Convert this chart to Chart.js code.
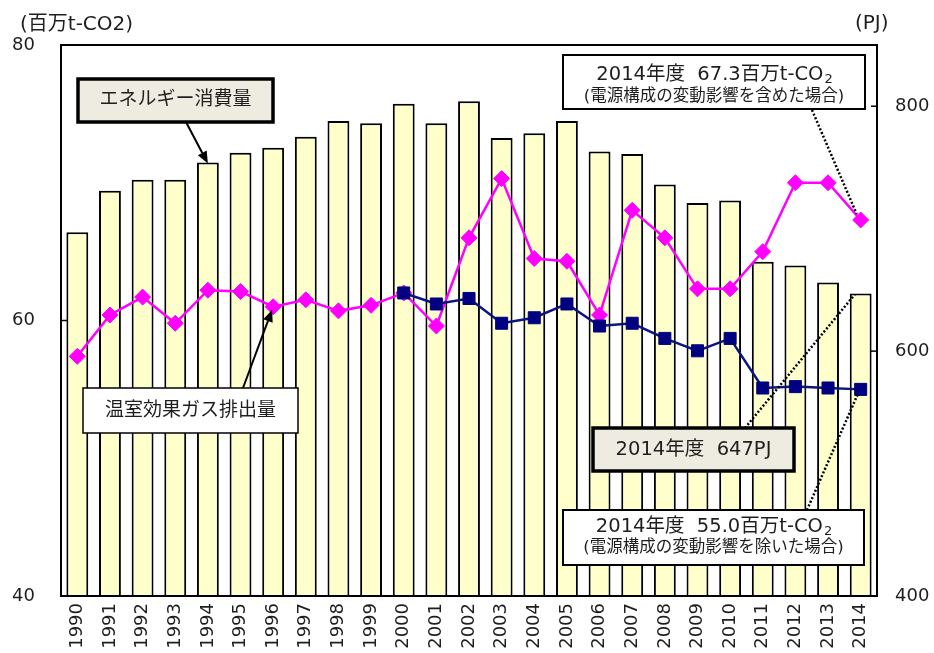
<!DOCTYPE html>
<html>
<head>
<meta charset="utf-8">
<script src="https://cdn.jsdelivr.net/npm/chart.js@4.4.1/dist/chart.umd.min.js"></script>
<style>
  html, body { margin: 0; padding: 0; background: #ffffff; }
  #wrap { width: 934px; height: 653px; }
</style>
</head>
<body>
<div id="wrap"><canvas id="chart" width="934" height="653"></canvas></div>
<script>
// Fiscal years
const years = ['1990','1991','1992','1993','1994','1995','1996','1997','1998','1999',
               '2000','2001','2002','2003','2004','2005','2006','2007','2008','2009',
               '2010','2011','2012','2013','2014'];

// Energy consumption (PJ, right axis)
const energyPJ = [697, 731, 740, 740, 754, 762, 766, 775, 788, 786,
                  802, 786, 804, 774, 778, 788, 763, 761, 736, 721,
                  723, 673, 670, 656, 647];

// GHG emissions including changes in the power-source mix (million t-CO2)
const ghgWithMix = [57.4, 60.4, 61.7, 59.8, 62.2, 62.1, 61.0, 61.5, 60.7, 61.1,
                    62.0, 59.6, 66.0, 70.3, 64.5, 64.3, 60.4, 68.0, 66.0, 62.3,
                    62.3, 65.0, 70.0, 70.0, 67.3];

// GHG emissions excluding changes in the power-source mix (million t-CO2)
const ghgExclMix = [null, null, null, null, null, null, null, null, null, null,
                    62.0, 61.2, 61.6, 59.8, 60.2, 61.2, 59.6, 59.8, 58.7, 57.8,
                    58.7, 55.1, 55.2, 55.1, 55.0];

// Axis ticks
const co2Ticks = [40, 60, 80];
const pjTicks = [400, 600, 800];

const LATIN_CJK = '"DejaVu Sans", "Noto Sans CJK JP", sans-serif';
const TEXT_COLOR = '#1e1e1e';
const BOX_BEIGE = '#eeece1';

function drawArrow(ctx, x1, y1, x2, y2) {
  const ang = Math.atan2(y2 - y1, x2 - x1);
  const head = 12, half = 5;
  const bx = x2 - head * Math.cos(ang), by = y2 - head * Math.sin(ang);
  ctx.save();
  ctx.strokeStyle = '#000'; ctx.fillStyle = '#000'; ctx.lineWidth = 2;
  ctx.beginPath(); ctx.moveTo(x1, y1); ctx.lineTo(bx, by); ctx.stroke();
  ctx.beginPath();
  ctx.moveTo(x2, y2);
  ctx.lineTo(bx + half * Math.sin(ang), by - half * Math.cos(ang));
  ctx.lineTo(bx - half * Math.sin(ang), by + half * Math.cos(ang));
  ctx.closePath(); ctx.fill();
  ctx.restore();
}

function drawDotted(ctx, x1, y1, x2, y2) {
  ctx.save();
  ctx.strokeStyle = '#000'; ctx.lineWidth = 2.5;
  ctx.setLineDash([2, 2]);
  ctx.beginPath(); ctx.moveTo(x1, y1); ctx.lineTo(x2, y2); ctx.stroke();
  ctx.restore();
}

function drawBox(ctx, x, y, w, h, fill, lw) {
  ctx.save();
  ctx.fillStyle = fill; ctx.fillRect(x, y, w, h);
  ctx.strokeStyle = '#000'; ctx.lineWidth = lw;
  ctx.strokeRect(x, y, w, h);
  ctx.restore();
}

function drawText(ctx, text, cx, cy, size) {
  ctx.save();
  ctx.font = size + 'px ' + LATIN_CJK;
  ctx.fillStyle = TEXT_COLOR;
  ctx.textAlign = 'center'; ctx.textBaseline = 'middle';
  ctx.fillText(text, cx, cy);
  ctx.restore();
}

// Text with a trailing subscript (e.g. CO2)
function drawTextSub(ctx, text, sub, cx, cy, size, subSize) {
  ctx.save();
  ctx.fillStyle = TEXT_COLOR; ctx.textBaseline = 'middle'; ctx.textAlign = 'left';
  ctx.font = size + 'px ' + LATIN_CJK;
  const w1 = ctx.measureText(text).width;
  ctx.font = subSize + 'px ' + LATIN_CJK;
  const w2 = ctx.measureText(sub).width;
  const x0 = cx - (w1 + w2) / 2;
  ctx.font = size + 'px ' + LATIN_CJK;
  ctx.fillText(text, x0, cy);
  ctx.font = subSize + 'px ' + LATIN_CJK;
  ctx.fillText(sub, x0 + w1 + 1, cy + 5);
  ctx.restore();
}

const framePlugin = {
  id: 'frameAndNotes',
  afterDraw(chart) {
    const ctx = chart.ctx;
    const a = chart.chartArea;
    const x = chart.scales.x, yL = chart.scales.y, yR = chart.scales.y1;

    // plot frame
    ctx.save();
    ctx.strokeStyle = '#000'; ctx.lineWidth = 2;
    ctx.strokeRect(a.left, a.top, a.right - a.left, a.bottom - a.top);
    // inward tick marks
    ctx.lineWidth = 1.5;
    co2Ticks.forEach(v => {
      const py = yL.getPixelForValue(v);
      ctx.beginPath(); ctx.moveTo(a.left, py); ctx.lineTo(a.left + 6, py); ctx.stroke();
    });
    pjTicks.forEach(v => {
      const py = yR.getPixelForValue(v);
      ctx.beginPath(); ctx.moveTo(a.right - 6, py); ctx.lineTo(a.right, py); ctx.stroke();
    });
    ctx.restore();

    // axis unit captions
    ctx.save();
    ctx.fillStyle = TEXT_COLOR; ctx.textBaseline = 'middle';
    ctx.font = '20px ' + LATIN_CJK;
    ctx.textAlign = 'left';
    ctx.fillText('(百万t-CO2)', 20, 25);
    ctx.fillText('(PJ)', 855, 24);
    ctx.restore();

    const last = years.length - 1;
    const xi = i => x.getPixelForValue(i);

    // energy consumption callout
    drawBox(ctx, 78, 79, 195, 43, BOX_BEIGE, 3.5);
    drawText(ctx, 'エネルギー消費量', 175.5, 100.5, 19);
    drawArrow(ctx, 186, 122, xi(4), yR.getPixelForValue(energyPJ[4]) + 1);

    // GHG emissions callout
    drawArrow(ctx, 243, 388, xi(6) - 1, yL.getPixelForValue(ghgWithMix[6]) + 3);
    drawBox(ctx, 83, 388, 215, 45, '#ffffff', 1.5);
    drawText(ctx, '温室効果ガス排出量', 190.5, 411, 19);

    // 2014 including power-mix effect
    drawDotted(ctx, 812, 110, xi(last) - 4, yL.getPixelForValue(ghgWithMix[last]) - 6);
    drawBox(ctx, 563, 55, 302, 54, '#ffffff', 2);
    drawTextSub(ctx, '2014年度  ' + ghgWithMix[last].toFixed(1) + '百万t-CO', '2', 714, 75, 19.5, 13);
    drawText(ctx, '(電源構成の変動影響を含めた場合)', 714, 97, 16.5);

    // 2014 energy consumption
    drawDotted(ctx, 745, 428, xi(last) - 6, yR.getPixelForValue(energyPJ[last]) + 1);
    drawBox(ctx, 593, 428, 201, 43, BOX_BEIGE, 3.5);
    drawText(ctx, '2014年度  ' + energyPJ[last] + 'PJ', 693.5, 450, 19.5);

    // 2014 excluding power-mix effect
    drawDotted(ctx, 807, 510, xi(last) - 3, yL.getPixelForValue(ghgExclMix[last]) + 5);
    drawBox(ctx, 563, 510, 301, 55, '#ffffff', 2);
    drawTextSub(ctx, '2014年度  ' + ghgExclMix[last].toFixed(1) + '百万t-CO', '2', 713.5, 527, 19.5, 13);
    drawText(ctx, '(電源構成の変動影響を除いた場合)', 713.5, 548, 16.5);
  }
};

const tickFont = { family: '"DejaVu Sans", sans-serif', size: 18 };

new Chart(document.getElementById('chart'), {
  data: {
    labels: years,
    datasets: [
      {
        type: 'line',
        label: '温室効果ガス排出量（電源構成の変動影響を除いた場合）',
        data: ghgExclMix,
        yAxisID: 'y',
        borderColor: '#0a1580',
        borderWidth: 2.5,
        pointStyle: 'rect',
        pointRadius: 8.5,
        pointBackgroundColor: '#000080',
        pointBorderColor: '#000080',
        pointBorderWidth: 1,
        tension: 0,
        spanGaps: false,
        order: 1
      },
      {
        type: 'line',
        label: '温室効果ガス排出量',
        data: ghgWithMix,
        yAxisID: 'y',
        borderColor: '#ff00ff',
        borderWidth: 2.5,
        pointStyle: 'rectRot',
        pointRadius: 8,
        pointBackgroundColor: '#ff00ff',
        pointBorderColor: '#ff00ff',
        pointBorderWidth: 1,
        tension: 0,
        order: 2
      },
      {
        type: 'bar',
        label: 'エネルギー消費量',
        data: energyPJ,
        yAxisID: 'y1',
        backgroundColor: '#ffffcc',
        borderColor: '#000000',
        borderWidth: 2,
        borderSkipped: false,
        barPercentage: 0.67,
        categoryPercentage: 1.0,
        order: 3
      }
    ]
  },
  options: {
    responsive: false,
    animation: false,
    devicePixelRatio: 1,
    layout: { padding: { top: 45, left: 0, right: 0, bottom: 0 } },
    plugins: { legend: { display: false }, tooltip: { enabled: false } },
    scales: {
      x: {
        type: 'category',
        offset: true,
        grid: { display: false, drawTicks: false },
        border: { display: false },
        ticks: { font: tickFont, color: TEXT_COLOR, minRotation: 90, maxRotation: 90, padding: 7, autoSkip: false },
        afterFit: s => { s.height = 57; }
      },
      y: {
        position: 'left',
        min: 40, max: 80,
        grid: { display: false, drawTicks: false },
        border: { display: false },
        afterBuildTicks: s => { s.ticks = co2Ticks.map(v => ({ value: v })); },
        ticks: { font: tickFont, color: TEXT_COLOR, padding: 26 },
        afterFit: s => { s.width = 61; }
      },
      y1: {
        position: 'right',
        min: 400, max: 850,
        grid: { display: false, drawTicks: false },
        border: { display: false },
        afterBuildTicks: s => { s.ticks = pjTicks.map(v => ({ value: v })); },
        ticks: { font: tickFont, color: TEXT_COLOR, padding: 18 },
        afterFit: s => { s.width = 57; }
      }
    }
  },
  plugins: [framePlugin]
});
</script>
</body>
</html>
